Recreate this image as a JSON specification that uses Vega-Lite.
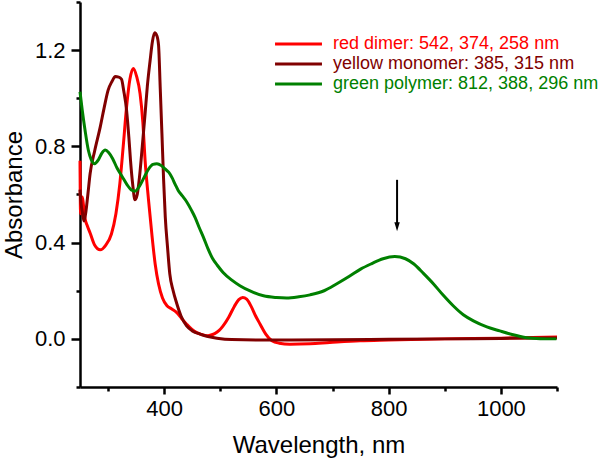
{
  "$schema": "https://vega.github.io/schema/vega-lite/v6.json",
  "autosize": "none",
  "padding": {"left": 80, "top": 2, "right": 43, "bottom": 76},
  "width": 477,
  "height": 385,
  "config": {
    "view": {"stroke": null},
    "font": "Liberation Sans",
    "axis": {"grid": false, "domainColor": "black", "tickColor": "black", "labelColor": "black", "titleColor": "black", "domainWidth": 2.5, "tickWidth": 2.5, "labelFont": "Liberation Sans", "titleFont": "Liberation Sans", "labelFontSize": 22, "titleFontSize": 24, "titleFontWeight": "normal"}
  },
  "resolve": {"axis": {"x": "independent", "y": "independent"}},
  "datasets": {
    "spectra": [
      {"k": "r", "x": 250, "y": 0.74}, {"k": "r", "x": 251, "y": 0.52}, {"k": "r", "x": 254, "y": 0.59}, {"k": "r", "x": 256, "y": 0.56}, {"k": "r", "x": 259, "y": 0.5}, {"k": "r", "x": 263, "y": 0.47}, {"k": "r", "x": 268, "y": 0.44}, {"k": "r", "x": 276, "y": 0.39}, {"k": "r", "x": 286, "y": 0.37}, {"k": "r", "x": 296, "y": 0.39}, {"k": "r", "x": 306, "y": 0.436}, {"k": "r", "x": 314, "y": 0.52}, {"k": "r", "x": 321, "y": 0.645}, {"k": "r", "x": 327, "y": 0.8}, {"k": "r", "x": 333, "y": 0.964}, {"k": "r", "x": 339, "y": 1.08}, {"k": "r", "x": 345, "y": 1.124}, {"k": "r", "x": 351, "y": 1.09}, {"k": "r", "x": 357, "y": 1.02}, {"k": "r", "x": 362, "y": 0.9}, {"k": "r", "x": 366, "y": 0.742}, {"k": "r", "x": 372, "y": 0.58}, {"k": "r", "x": 378, "y": 0.436}, {"k": "r", "x": 384, "y": 0.31}, {"k": "r", "x": 390, "y": 0.228}, {"k": "r", "x": 397, "y": 0.17}, {"k": "r", "x": 405, "y": 0.1375}, {"k": "r", "x": 413, "y": 0.125}, {"k": "r", "x": 422, "y": 0.11}, {"k": "r", "x": 431, "y": 0.085}, {"k": "r", "x": 440, "y": 0.061}, {"k": "r", "x": 449, "y": 0.04}, {"k": "r", "x": 458, "y": 0.026}, {"k": "r", "x": 467, "y": 0.018}, {"k": "r", "x": 476, "y": 0.0125}, {"k": "r", "x": 482, "y": 0.015}, {"k": "r", "x": 490, "y": 0.022}, {"k": "r", "x": 498, "y": 0.035}, {"k": "r", "x": 505, "y": 0.054}, {"k": "r", "x": 515, "y": 0.09}, {"k": "r", "x": 525, "y": 0.135}, {"k": "r", "x": 533, "y": 0.163}, {"k": "r", "x": 540, "y": 0.172}, {"k": "r", "x": 547, "y": 0.165}, {"k": "r", "x": 555, "y": 0.135}, {"k": "r", "x": 563, "y": 0.095}, {"k": "r", "x": 571, "y": 0.061}, {"k": "r", "x": 581, "y": 0.02}, {"k": "r", "x": 592, "y": -0.008}, {"k": "r", "x": 605, "y": -0.018}, {"k": "r", "x": 624, "y": -0.022}, {"k": "r", "x": 660, "y": -0.02}, {"k": "r", "x": 695, "y": -0.015}, {"k": "r", "x": 749, "y": -0.008}, {"k": "r", "x": 800, "y": -0.005}, {"k": "r", "x": 900, "y": 0.0}, {"k": "r", "x": 1000, "y": 0.003}, {"k": "r", "x": 1100, "y": 0.008},
      {"k": "y", "x": 250, "y": 0.62}, {"k": "y", "x": 252, "y": 0.56}, {"k": "y", "x": 254, "y": 0.53}, {"k": "y", "x": 257, "y": 0.49}, {"k": "y", "x": 260, "y": 0.52}, {"k": "y", "x": 264, "y": 0.6}, {"k": "y", "x": 268, "y": 0.686}, {"k": "y", "x": 276, "y": 0.78}, {"k": "y", "x": 286, "y": 0.88}, {"k": "y", "x": 293, "y": 0.96}, {"k": "y", "x": 300, "y": 1.033}, {"k": "y", "x": 307, "y": 1.07}, {"k": "y", "x": 313, "y": 1.09}, {"k": "y", "x": 319, "y": 1.088}, {"k": "y", "x": 324, "y": 1.079}, {"k": "y", "x": 328, "y": 1.03}, {"k": "y", "x": 333, "y": 0.95}, {"k": "y", "x": 337, "y": 0.84}, {"k": "y", "x": 340, "y": 0.742}, {"k": "y", "x": 344, "y": 0.64}, {"k": "y", "x": 348, "y": 0.578}, {"k": "y", "x": 352, "y": 0.6}, {"k": "y", "x": 356, "y": 0.672}, {"k": "y", "x": 361, "y": 0.8}, {"k": "y", "x": 366, "y": 0.936}, {"k": "y", "x": 370, "y": 1.05}, {"k": "y", "x": 375, "y": 1.158}, {"k": "y", "x": 379, "y": 1.235}, {"k": "y", "x": 383, "y": 1.272}, {"k": "y", "x": 387, "y": 1.26}, {"k": "y", "x": 390, "y": 1.22}, {"k": "y", "x": 393, "y": 1.04}, {"k": "y", "x": 396, "y": 0.853}, {"k": "y", "x": 399, "y": 0.66}, {"k": "y", "x": 402, "y": 0.505}, {"k": "y", "x": 406, "y": 0.38}, {"k": "y", "x": 410, "y": 0.27}, {"k": "y", "x": 416, "y": 0.2}, {"k": "y", "x": 422, "y": 0.15}, {"k": "y", "x": 430, "y": 0.095}, {"k": "y", "x": 440, "y": 0.054}, {"k": "y", "x": 451, "y": 0.032}, {"k": "y", "x": 464, "y": 0.02}, {"k": "y", "x": 478, "y": 0.01}, {"k": "y", "x": 494, "y": 0.003}, {"k": "y", "x": 520, "y": -0.003}, {"k": "y", "x": 600, "y": -0.005}, {"k": "y", "x": 700, "y": -0.004}, {"k": "y", "x": 800, "y": -0.002}, {"k": "y", "x": 900, "y": 0.0}, {"k": "y", "x": 1000, "y": 0.002}, {"k": "y", "x": 1100, "y": 0.004},
      {"k": "g", "x": 250, "y": 1.027}, {"k": "g", "x": 254, "y": 0.95}, {"k": "g", "x": 259, "y": 0.867}, {"k": "g", "x": 265, "y": 0.783}, {"k": "g", "x": 270, "y": 0.745}, {"k": "g", "x": 276, "y": 0.728}, {"k": "g", "x": 283, "y": 0.745}, {"k": "g", "x": 289, "y": 0.772}, {"k": "g", "x": 295, "y": 0.785}, {"k": "g", "x": 301, "y": 0.775}, {"k": "g", "x": 308, "y": 0.75}, {"k": "g", "x": 316, "y": 0.71}, {"k": "g", "x": 325, "y": 0.675}, {"k": "g", "x": 334, "y": 0.64}, {"k": "g", "x": 341, "y": 0.62}, {"k": "g", "x": 348, "y": 0.614}, {"k": "g", "x": 356, "y": 0.635}, {"k": "g", "x": 364, "y": 0.67}, {"k": "g", "x": 372, "y": 0.705}, {"k": "g", "x": 380, "y": 0.725}, {"k": "g", "x": 387, "y": 0.728}, {"k": "g", "x": 395, "y": 0.72}, {"k": "g", "x": 402, "y": 0.705}, {"k": "g", "x": 408, "y": 0.693}, {"k": "g", "x": 414, "y": 0.67}, {"k": "g", "x": 420, "y": 0.64}, {"k": "g", "x": 425, "y": 0.617}, {"k": "g", "x": 432, "y": 0.595}, {"k": "g", "x": 440, "y": 0.57}, {"k": "g", "x": 449, "y": 0.533}, {"k": "g", "x": 455, "y": 0.505}, {"k": "g", "x": 462, "y": 0.465}, {"k": "g", "x": 470, "y": 0.422}, {"k": "g", "x": 478, "y": 0.375}, {"k": "g", "x": 486, "y": 0.335}, {"k": "g", "x": 495, "y": 0.305}, {"k": "g", "x": 505, "y": 0.276}, {"k": "g", "x": 520, "y": 0.245}, {"k": "g", "x": 535, "y": 0.221}, {"k": "g", "x": 555, "y": 0.197}, {"k": "g", "x": 577, "y": 0.179}, {"k": "g", "x": 600, "y": 0.172}, {"k": "g", "x": 618, "y": 0.17}, {"k": "g", "x": 640, "y": 0.175}, {"k": "g", "x": 660, "y": 0.183}, {"k": "g", "x": 685, "y": 0.2}, {"k": "g", "x": 707, "y": 0.228}, {"k": "g", "x": 730, "y": 0.26}, {"k": "g", "x": 750, "y": 0.29}, {"k": "g", "x": 770, "y": 0.313}, {"k": "g", "x": 790, "y": 0.333}, {"k": "g", "x": 811, "y": 0.342}, {"k": "g", "x": 830, "y": 0.333}, {"k": "g", "x": 845, "y": 0.311}, {"k": "g", "x": 862, "y": 0.272}, {"k": "g", "x": 880, "y": 0.228}, {"k": "g", "x": 897, "y": 0.182}, {"k": "g", "x": 915, "y": 0.1375}, {"k": "g", "x": 933, "y": 0.1}, {"k": "g", "x": 951, "y": 0.075}, {"k": "g", "x": 975, "y": 0.05}, {"k": "g", "x": 998, "y": 0.033}, {"k": "g", "x": 1020, "y": 0.018}, {"k": "g", "x": 1046, "y": 0.005}, {"k": "g", "x": 1070, "y": 0.001}, {"k": "g", "x": 1099, "y": 0.0}
    ],
    "arrow": [{"x": 815, "y": 0.661, "y2": 0.466}],
    "tip": [{"x": 815, "y": 0.466}]
  },
  "layer": [
    {
      "data": {"name": "spectra"},
      "mark": {"type": "line", "strokeWidth": 3, "interpolate": "monotone"},
      "encoding": {
        "x": {"field": "x", "type": "quantitative", "scale": {"domain": [250, 1100], "nice": false, "zero": false},
          "axis": {"orient": "bottom", "title": "Wavelength, nm", "values": [400, 600, 800, 1000], "format": "d", "tickSize": 7, "labelPadding": 4, "titlePadding": 14}},
        "y": {"field": "y", "type": "quantitative", "scale": {"domain": [-0.2, 1.4], "nice": false, "zero": false},
          "axis": {"orient": "left", "title": "Absorbance", "values": [0, 0.4, 0.8, 1.2], "format": ".1f", "tickSize": 9, "labelPadding": 6, "titlePadding": 8}},
        "color": {"field": "k", "type": "nominal", "scale": {"domain": ["r", "y", "g"], "range": ["#ff0000", "#800000", "#008000"]},
          "legend": {"title": null, "orient": "none", "legendX": 207.5, "legendY": 31, "padding": 0, "symbolType": "M-2.47,0L2.47,0", "symbolSize": 361, "symbolStrokeWidth": 3, "rowPadding": 0, "labelOffset": 23.5, "labelFontSize": 18, "labelFont": "Liberation Sans", "labelLimit": 0,
            "labelExpr": "datum.value === 'r' ? 'red dimer: 542, 374, 258 nm' : datum.value === 'y' ? 'yellow monomer: 385, 315 nm' : 'green polymer: 812, 388, 296 nm'",
            "encode": {"labels": {"update": {"fill": {"scale": "color", "field": "value"}}}}}}
      }
    },
    {
      "data": {"name": "arrow"},
      "mark": {"type": "rule", "strokeWidth": 2, "color": "black"},
      "encoding": {
        "x": {"field": "x", "type": "quantitative", "axis": {"orient": "bottom", "title": null, "values": [300, 500, 700, 900, 1100], "labels": false, "domain": false, "tickSize": 4}},
        "y": {"field": "y", "type": "quantitative", "axis": {"orient": "left", "title": null, "values": [-0.2, 0.2, 0.6, 1.0, 1.4], "labels": false, "domain": false, "tickSize": 4}},
        "y2": {"field": "y2"}
      }
    },
    {
      "data": {"name": "tip"},
      "mark": {"type": "point", "shape": "M-0.6,-1L0.6,-1L0,1Z", "filled": true, "color": "black", "opacity": 1, "size": 81},
      "encoding": {
        "x": {"field": "x", "type": "quantitative", "axis": null},
        "y": {"field": "y", "type": "quantitative", "axis": null}
      }
    }
  ]
}
